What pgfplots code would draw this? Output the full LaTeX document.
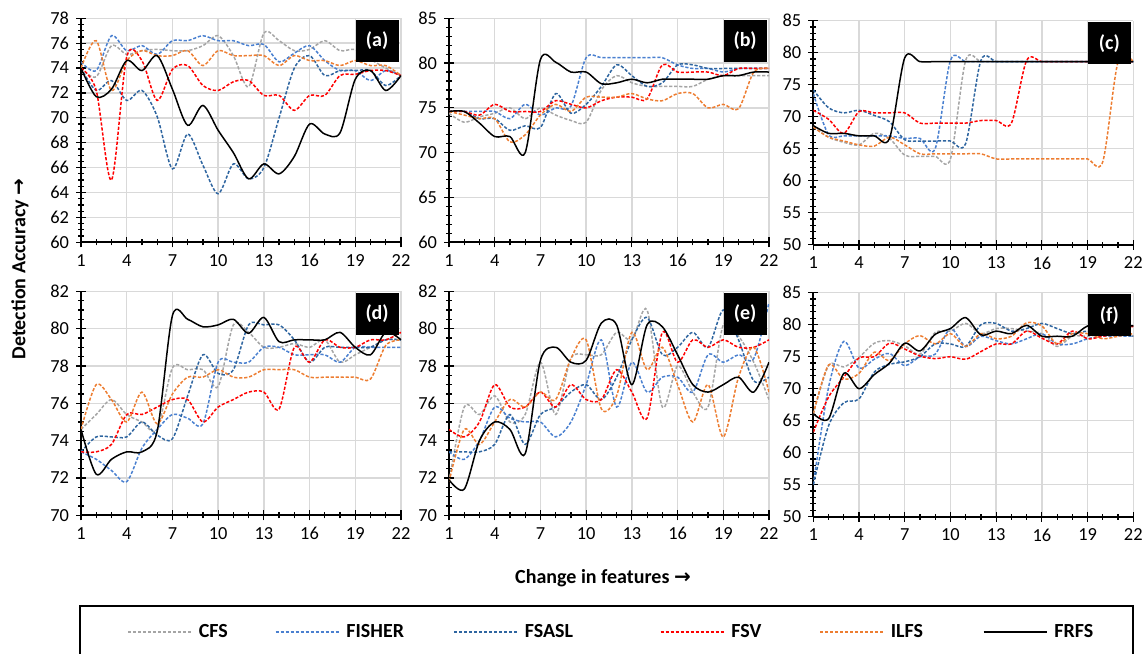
\documentclass[border=0pt]{standalone}
\usepackage{pgfplots}
\pgfplotsset{compat=1.18}
\usepackage{pgfplotstable}
\usepackage{fontspec}
\setmainfont{Carlito}
\newfontfamily\arrowfont{DejaVu Sans}
\definecolor{cCFS}{HTML}{A5A5A5}
\definecolor{cFISHER}{HTML}{4A80D0}
\definecolor{cFSASL}{HTML}{2E65A0}
\definecolor{cFSV}{HTML}{FF0000}
\definecolor{cILFS}{HTML}{ED7D31}
\definecolor{gridc}{HTML}{D9D9D9}

\pgfplotstableread{
x c fi fa fv il fr
1 74.0 74.5 74.0 74.0 74.0 74.0
2 73.3 73.8 72.2 72.2 76.2 71.7
3 75.8 76.6 73.0 65.0 72.2 72.3
4 75.1 75.4 71.4 74.9 74.6 74.6
5 75.4 75.8 72.2 74.6 75.4 73.8
6 75.5 75.1 70.1 71.4 75.0 75.0
7 75.4 76.2 65.9 73.9 75.0 72.3
8 75.4 76.2 68.7 74.2 75.4 69.4
9 75.8 76.6 66.2 72.6 74.2 71.0
10 76.6 76.2 63.9 72.2 75.4 69.0
11 75.0 76.2 66.3 72.9 75.0 67.2
12 72.5 75.8 65.1 73.0 75.0 65.1
13 76.8 75.9 66.0 71.8 75.0 66.3
14 76.2 74.5 70.0 71.8 74.2 65.5
15 75.4 75.2 74.0 70.6 75.0 66.9
16 75.5 75.8 75.0 71.8 74.6 69.5
17 76.2 74.6 73.4 71.8 74.6 68.7
18 75.4 73.8 73.8 73.4 74.2 68.8
19 75.5 73.8 73.8 73.5 74.6 73.1
20 74.7 73.0 73.8 73.8 74.2 73.8
21 74.0 73.8 72.6 73.8 74.2 72.2
22 73.4 73.4 73.4 73.4 73.4 73.4
}\tA

\pgfplotstableread{
x c fi fa fv il fr
1 74.4 74.6 74.6 74.6 74.6 74.6
2 73.4 74.6 74.6 74.6 74.2 74.6
3 74.0 74.6 73.8 74.2 73.8 73.3
4 74.4 74.6 73.8 75.4 73.8 71.8
5 75.0 73.8 72.5 74.6 71.2 71.8
6 73.8 75.4 73.0 74.6 72.0 70.0
7 75.0 74.2 72.8 74.6 74.2 80.4
8 74.2 75.0 76.6 75.8 75.4 80.1
9 73.6 75.2 74.4 75.4 74.6 79.0
10 73.4 80.6 75.4 75.0 76.2 79.0
11 77.0 80.6 77.4 75.8 76.2 77.7
12 78.6 80.6 79.8 76.2 76.2 77.8
13 77.8 80.6 78.6 76.2 76.6 78.2
14 77.4 80.6 77.4 76.0 76.0 77.8
15 77.4 80.6 77.8 79.8 75.8 78.2
16 77.4 79.8 79.8 79.0 76.6 78.2
17 77.4 79.4 79.8 79.0 76.6 78.2
18 78.2 79.4 79.4 79.0 75.0 78.2
19 78.6 79.0 79.4 78.6 75.4 78.6
20 78.6 79.4 79.4 79.4 74.9 78.6
21 78.6 79.4 79.4 79.4 79.0 79.0
22 78.6 79.4 79.4 79.4 79.4 79.0
}\tB

\pgfplotstableread{
x c fi fa fv il fr
1 68.4 73.6 74.2 71.0 68.4 68.6
2 66.8 67.2 71.4 69.6 66.8 67.4
3 66.0 67.0 70.6 67.4 66.2 67.4
4 65.6 67.0 71.0 70.8 65.6 67.0
5 67.4 67.0 70.2 70.6 65.4 67.0
6 66.6 67.0 69.2 70.6 66.8 66.6
7 64.0 66.6 66.4 70.6 65.6 79.2
8 63.8 66.6 66.2 69.0 64.2 78.6
9 63.8 65.0 66.2 69.0 64.2 78.6
10 63.4 78.8 66.2 69.0 64.2 78.6
11 78.8 78.6 65.8 69.0 64.2 78.6
12 78.6 78.6 78.8 69.4 64.2 78.6
13 78.6 78.6 78.6 69.4 63.4 78.6
14 78.6 78.6 78.6 69.0 63.4 78.6
15 78.6 78.6 78.6 78.8 63.4 78.6
16 78.6 78.6 78.6 78.6 63.4 78.6
17 78.6 78.6 78.6 78.6 63.4 78.6
18 78.6 78.6 78.6 78.6 63.4 78.6
19 78.6 78.6 78.6 78.6 63.4 78.6
20 78.6 78.6 78.6 78.6 63.0 78.6
21 78.6 78.6 78.6 78.6 78.6 78.6
22 78.6 78.6 78.6 78.6 78.6 78.6
}\tC

\pgfplotstableread{
x c fi fa fv il fr
1 74.6 73.4 73.4 73.4 74.6 74.6
2 75.4 73.0 74.2 73.4 77.0 72.2
3 76.2 72.4 74.2 73.8 76.2 73.0
4 75.4 71.8 74.2 75.4 75.0 73.4
5 75.0 73.6 75.0 75.4 76.6 73.4
6 74.6 74.6 74.3 75.8 74.9 74.5
7 77.9 75.4 74.1 76.2 76.5 80.7
8 77.8 75.2 76.4 76.2 77.4 80.5
9 77.8 74.9 78.6 75.0 77.4 80.1
10 76.9 78.2 77.6 75.8 77.8 80.2
11 80.2 78.2 77.8 76.2 77.4 80.5
12 79.8 78.2 80.2 76.6 77.4 79.75
13 79.0 79.0 80.2 76.6 77.8 80.6
14 79.0 79.0 80.2 75.7 77.8 79.3
15 79.2 78.6 79.4 79.0 77.8 79.4
16 79.0 78.6 78.2 78.2 77.4 79.4
17 79.4 78.6 79.0 79.4 77.4 79.4
18 78.2 78.2 79.0 79.0 77.4 79.8
19 78.6 79.0 79.0 79.0 77.4 79.0
20 79.0 79.0 79.0 79.4 77.3 78.6
21 79.4 79.0 79.4 79.4 79.1 79.8
22 79.4 79.0 79.4 79.8 79.4 79.4
}\tD

\pgfplotstableread{
x c fi fa fv il fr
1 71.8 73.4 73.4 74.6 71.8 71.9
2 75.8 73.0 73.4 74.2 74.6 71.4
3 75.4 74.0 73.4 75.0 73.8 74.0
4 76.4 75.8 73.8 77.0 75.0 75.0
5 75.0 75.2 75.4 75.8 76.2 74.6
6 75.4 75.0 73.8 75.8 75.8 73.3
7 78.2 75.0 75.4 76.6 76.6 78.3
8 75.4 74.2 75.8 75.8 76.2 79.0
9 78.4 75.0 76.6 77.0 78.4 78.2
10 78.6 77.0 77.0 76.2 79.4 78.3
11 78.6 79.4 76.2 76.2 75.7 80.3
12 79.8 75.8 77.4 77.8 76.4 80.2
13 79.4 78.2 79.4 76.6 79.8 77.0
14 81.0 76.6 80.6 75.2 77.8 80.2
15 75.8 77.4 78.6 79.8 79.0 80.1
16 78.0 77.4 79.0 78.2 77.0 78.6
17 76.6 76.6 79.8 79.4 75.0 77.0
18 75.8 78.6 79.0 79.0 77.0 76.6
19 80.2 78.2 81.0 79.4 74.2 77.0
20 79.6 78.6 79.4 79.0 77.4 77.4
21 78.2 78.4 77.2 79.0 79.0 76.6
22 76.2 81.4 77.4 79.4 76.6 78.2
}\tE

\pgfplotstableread{
x c fi fa fv il fr
1 66.0 55.0 55.0 63.2 66.1 66.1
2 73.6 70.2 64.2 68.7 73.7 65.3
3 73.4 77.4 67.8 71.8 71.5 72.4
4 74.9 73.2 68.4 74.8 72.4 70.0
5 77.1 74.6 72.6 75.0 75.7 72.2
6 77.5 75.5 73.8 77.1 74.4 74.0
7 76.7 73.6 74.2 76.2 77.0 77.1
8 75.4 75.0 75.0 75.1 78.3 75.9
9 78.8 75.4 77.0 74.7 77.0 78.5
10 79.0 79.4 77.0 75.0 78.6 79.4
11 80.2 76.6 76.6 74.6 76.6 81.1
12 78.6 78.2 80.0 75.8 78.6 78.4
13 79.4 77.5 80.2 77.0 77.8 79.0
14 79.4 77.0 79.0 77.0 78.2 78.6
15 79.0 77.8 79.4 79.0 80.3 79.9
16 78.6 78.6 80.2 77.9 79.8 78.2
17 76.6 77.0 79.4 77.0 77.0 78.2
18 78.2 77.0 78.6 79.0 78.6 78.2
19 78.2 77.8 79.0 77.8 78.6 79.8
20 78.6 78.2 78.6 78.2 77.8 79.8
21 78.6 78.2 78.6 78.6 78.2 79.8
22 78.2 78.2 78.2 79.8 78.6 79.8
}\tF

\pgfplotsset{
  panel/.style={
    scale only axis, width=160bp, height=112bp,
    anchor=south west,
    xmin=1, xmax=22, xtick={1,4,...,22}, minor x tick num=2,
    axis lines*=left,
    axis line style={line width=1bp, black},
    grid=major, major grid style={draw=gridc, line width=0.75bp},
    tick align=center, major tick length=5bp, minor tick length=3bp,
    every tick/.style={black, line width=0.6bp},
    ticklabel style={font=\fontsize{9.2bp}{11bp}\selectfont},
    /pgf/number format/assume math mode=true,
    every axis plot/.append style={line width=0.75bp, smooth, tension=0.5},
    legend image code/.code={\draw[##1] (0bp,0bp) -- (31.5bp,0bp);},
  },
  sCFS/.style={cCFS, dash pattern=on 1.6bp off 0.9bp},
  sFISHER/.style={cFISHER, dash pattern=on 1.6bp off 0.9bp},
  sFSASL/.style={cFSASL, dash pattern=on 1.6bp off 0.9bp},
  sFSV/.style={cFSV, dash pattern=on 1.6bp off 0.9bp},
  sILFS/.style={cILFS, dash pattern=on 1.6bp off 0.9bp},
  sFRFS/.style={black, solid},
}
\tikzset{lab/.style={fill=black, text=white, font=\bfseries\fontsize{10bp}{12bp}\selectfont,
  minimum width=21.5bp, minimum height=21bp, inner sep=0pt, anchor=north east, xshift=-1bp, yshift=-0.5bp}}

\newcommand{\sixplots}[1]{%
  \addplot[sCFS] table[x=x,y=c]{#1};
  \addplot[sFISHER] table[x=x,y=fi]{#1};
  \addplot[sFSASL] table[x=x,y=fa]{#1};
  \addplot[sFSV] table[x=x,y=fv]{#1};
  \addplot[sILFS] table[x=x,y=il]{#1};
  \addplot[sFRFS] table[x=x,y=fr]{#1};
}

\begin{document}
\begin{tikzpicture}
\useasboundingbox (0bp,0bp) rectangle (573bp,327bp);

% (a)
\begin{axis}[panel, at={(40.5bp,205.85bp)}, ymin=60, ymax=78, ytick distance=2, minor y tick num=3]
\sixplots{\tA}
\node[lab] at (rel axis cs:1,1) {(a)};
\end{axis}

% (b)
\begin{axis}[panel, at={(224.5bp,205.85bp)}, ymin=60, ymax=85, ytick distance=5, minor y tick num=4]
\sixplots{\tB}
\node[lab] at (rel axis cs:1,1) {(b)};
\end{axis}

% (c)
\begin{axis}[panel, at={(406.65bp,204.65bp)}, ymin=50, ymax=85, ytick distance=5, minor y tick num=4]
\sixplots{\tC}
\node[lab] at (rel axis cs:1,1) {(c)};
\end{axis}

% (d)
\begin{axis}[panel, at={(40.5bp,69.35bp)}, ymin=70, ymax=82, ytick distance=2, minor y tick num=3,
  legend columns=6,
  legend style={at={(0.14375,-0.521)}, anchor=west, draw=none, fill=none, inner sep=0pt,
    nodes={inner sep=0pt}, /tikz/column sep=0pt,
    font=\bfseries\fontsize{10bp}{12bp}\selectfont}]
\sixplots{\tD}
\node[lab] at (rel axis cs:1,1) {(d)};
\legend{\makebox[41.5bp][l]{\hspace*{3.5bp}CFS},
        \makebox[57bp][l]{\hspace*{3.5bp}FISHER},
        \makebox[71bp][l]{\hspace*{3.5bp}FSASL},
        \makebox[47.5bp][l]{\hspace*{3.5bp}FSV},
        \makebox[49.5bp][l]{\hspace*{3.5bp}ILFS},
        \makebox[30bp][l]{\hspace*{3.5bp}FRFS}}
\end{axis}

% (e)
\begin{axis}[panel, at={(224.5bp,69.35bp)}, ymin=70, ymax=82, ytick distance=2, minor y tick num=3]
\sixplots{\tE}
\node[lab] at (rel axis cs:1,1) {(e)};
\end{axis}

% (f)
\begin{axis}[panel, at={(406.65bp,68.65bp)}, ymin=50, ymax=85, ytick distance=5, minor y tick num=4]
\sixplots{\tF}
\node[lab] at (rel axis cs:1,1) {(f)};
\end{axis}

% axis titles
\node[rotate=90, font=\bfseries\fontsize{10bp}{12bp}\selectfont] at (10bp,192.5bp)
  {Detection Accuracy {\arrowfont\bfseries →}};
\node[anchor=base, font=\bfseries\fontsize{10bp}{12bp}\selectfont] at (301.5bp,35.5bp)
  {Change in features {\arrowfont\bfseries →}};

% legend frame
\draw[line width=0.75bp, black] (40bp,24bp) rectangle (566.5bp,-6bp);
\end{tikzpicture}
\end{document}
